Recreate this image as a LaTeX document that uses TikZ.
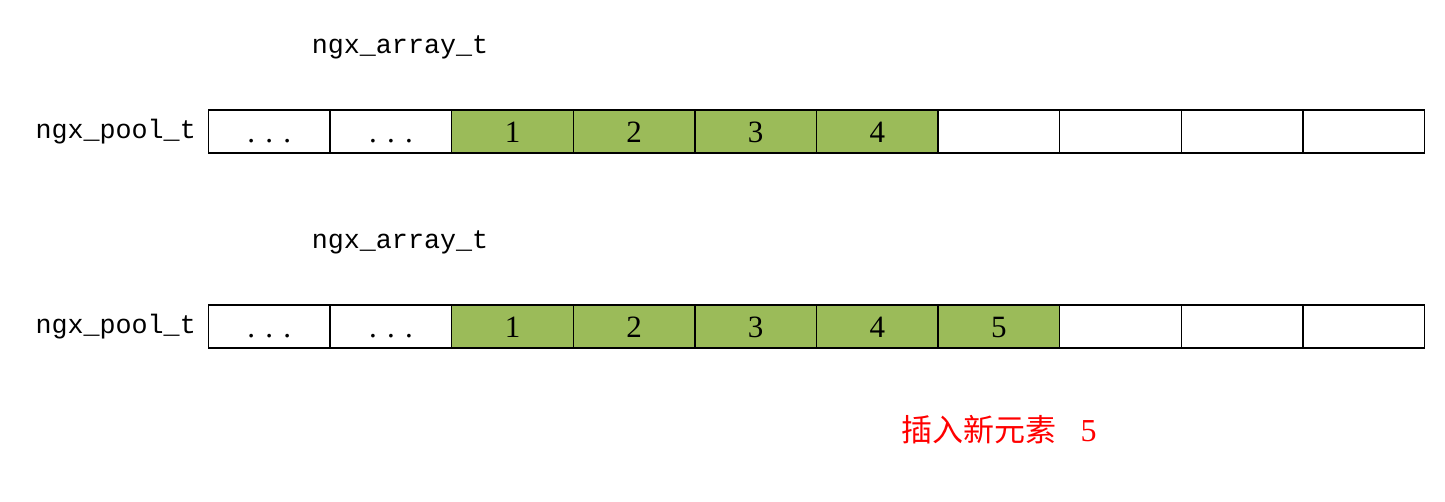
\documentclass[tikz,border=0pt]{standalone}
\usepackage{fontspec}
\setmainfont{Liberation Serif}
\newfontfamily\monof{Liberation Mono}
\newfontfamily\cjk{Noto Sans CJK SC}
\definecolor{cellgreen}{RGB}{155,187,89}
\definecolor{notered}{RGB}{255,0,0}
\newcommand{\celldots}{.\hspace{0.33em}.\hspace{0.33em}.}
\begin{document}
\begin{tikzpicture}[x=1pt,y=-1pt,
  cell/.style={draw=black,line width=1.5pt,minimum width=121.6pt,minimum height=43pt,inner sep=0pt,outer sep=0pt,anchor=north west,font=\fontsize{31}{31}\selectfont,text height=21pt,text depth=0pt},
  full/.style={cell,fill=cellgreen},
  lbl/.style={font=\monof\fontsize{26.7}{27}\selectfont,inner sep=0pt},
  note/.style={text=notered,inner sep=0pt}]
\useasboundingbox (0,0) rectangle (1445,501);
% top row
\foreach \i/\t/\s in {0/\celldots/cell,1/\celldots/cell,2/1/full,3/2/full,4/3/full,5/4/full,6/{}/cell,7/{}/cell,8/{}/cell,9/{}/cell}{
  \node[\s] (a\i) at ({208.5+121.6*\i},110) {\t};
}
% bottom row
\foreach \i/\t/\s in {0/\celldots/cell,1/\celldots/cell,2/1/full,3/2/full,4/3/full,5/4/full,6/5/full,7/{}/cell,8/{}/cell,9/{}/cell}{
  \node[\s] (b\i) at ({208.5+121.6*\i},305) {\t};
}
\node[lbl,anchor=east] (p1) at (196,132) {ngx\_pool\_t};
\node[lbl,anchor=east] (p2) at (196,327) {ngx\_pool\_t};
\node[lbl] (t1) at (400,47) {ngx\_array\_t};
\node[lbl] (t2) at (400,242) {ngx\_array\_t};
\node[note] (n1) at (999,430) {{\cjk\fontsize{31}{31}\selectfont 插入新元素}\fontsize{32}{32}\selectfont\ \ \ 5};
\end{tikzpicture}
\end{document}
